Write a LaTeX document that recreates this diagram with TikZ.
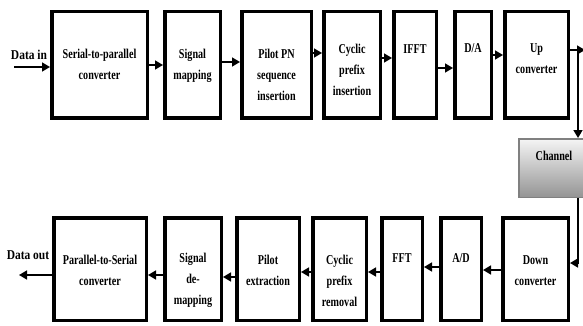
\documentclass[tikz,border=0pt]{standalone}
\usepackage{fontspec}
\setmainfont{Liberation Serif}[FakeStretch=0.75]
\newfontfamily\iofont{Liberation Serif}[FakeStretch=0.85]
\usetikzlibrary{positioning,arrows.meta}

\begin{document}
\begin{tikzpicture}[x=1pt,y=-1pt,
    blk/.style={draw=black,line width=3.5pt,inner sep=0pt,minimum width=#1},
    toprow/.style={minimum height=106.5pt},
    botrow/.style={minimum height=102.5pt},
    txt/.style={font=\fontsize{13.5}{21}\selectfont\bfseries,align=center,inner sep=0pt},
    iotxt/.style={font=\fontsize{13.5}{15}\selectfont\iofont\bfseries,inner sep=0pt},
    arr/.style={line width=1.6pt,-{Triangle[length=8pt,width=9pt]}}]
      \useasboundingbox (0,0) rectangle (583,326);
      \node [blk=95.5,toprow] (sp) at (99.5,65) {};
      \node [blk=55.5,toprow] (map) at (192.5,65) {};
      \node [blk=69.5,toprow] (pilot) at (276.5,65) {};
      \node [blk=56.5,toprow] (cp) at (352,65) {};
      \node [blk=42.5,toprow] (ifft) at (415,65) {};
      \node [blk=36.5,toprow] (da) at (473,65) {};
      \node [blk=63.5,toprow] (up) at (536.5,65) {};
      \node [txt,below=39pt of sp.north] (sp-t) {Serial-to-parallel\\converter};
      \node [txt,below=39pt of map.north] (map-t) {Signal\\mapping};
      \node [txt,below=39pt of pilot.north] (pilot-t) {Pilot PN\\sequence\\insertion};
      \node [txt,below=34pt of cp.north] (cp-t) {Cyclic\\prefix\\insertion};
      \node [txt,below=34pt of ifft.north] (ifft-t) {IFFT};
      \node [txt,below=33pt of da.north] (da-t) {D/A};
      \node [txt,below=33pt of up.north] (up-t) {Up\\converter};
      \node [draw=black!50,line width=1.5pt,top color=black!4,bottom color=black!42,
             minimum width=70.5pt,minimum height=58.5pt] (chan) at (554,168) {};
      \node [txt,below=13pt of chan.north] (chan-t) {Channel};
      \node [blk=65.5,botrow] (down) at (535.5,269) {};
      \node [blk=40.5,botrow] (ad) at (461,269) {};
      \node [blk=40.5,botrow] (fft) at (402,269) {};
      \node [blk=53.5,botrow] (cpr) at (339.5,269) {};
      \node [blk=62.5,botrow] (pe) at (268,269) {};
      \node [blk=56.5,botrow] (demap) at (193,269) {};
      \node [blk=92.5,botrow] (ps) at (100,269) {};
      \node [txt,below=39pt of down.north] (down-t) {Down\\converter};
      \node [txt,below=37pt of ad.north] (ad-t) {A/D};
      \node [txt,below=37pt of fft.north] (fft-t) {FFT};
      \node [txt,below=39pt of cpr.north] (cpr-t) {Cyclic\\prefix\\removal};
      \node [txt,below=39pt of pe.north] (pe-t) {Pilot\\extraction};
      \node [txt,below=37pt of demap.north] (demap-t) {Signal\\de-\\mapping};
      \node [txt,below=39pt of ps.north] (ps-t) {Parallel-to-Serial\\converter};
      \node [iotxt] (in-t) at (29,55) {Data in};
      \node [iotxt] (out-t) at (28,255) {Data out};
      \coordinate (in) at (14,67);
      \coordinate (out) at (19,275);
      \coordinate (upout) at (585,50);
      \coordinate (turn) at (578,50);
      \draw [arr] (in) -- ([yshift=-2pt]sp.west);
      \draw [arr] (sp.east) -- (map.west);
      \draw [arr] ([yshift=3pt]map.east) -- ([yshift=3pt]pilot.west);
      \draw [arr] ([yshift=12pt]pilot.east) -- ([yshift=12pt]cp.west);
      \draw [arr] ([yshift=7pt]cp.east) -- ([yshift=7pt]ifft.west);
      \draw [arr] ([yshift=-3pt]ifft.east) -- ([yshift=-3pt]da.west);
      \draw [arr] ([yshift=10pt]da.east) -- ([yshift=10pt]up.west);
      \draw [arr] ([yshift=15pt]up.east) -- (upout);
      \draw [arr] (turn) -- (turn |- chan.north);
      \draw [arr] (turn |- chan.south) |- ([yshift=6pt]down.east);
      \draw [arr] ([yshift=-1pt]down.west) -- ([yshift=-1pt]ad.east);
      \draw [arr] ([yshift=2pt]ad.west) -- ([yshift=2pt]fft.east);
      \draw [arr] ([yshift=-3pt]fft.west) -- ([yshift=-3pt]cpr.east);
      \draw [arr] ([yshift=-3pt]cpr.west) -- ([yshift=-3pt]pe.east);
      \draw [arr] ([yshift=-8pt]pe.west) -- ([yshift=-8pt]demap.east);
      \draw [arr] ([yshift=-6pt]demap.west) -- ([yshift=-6pt]ps.east);
      \draw [arr] ([yshift=-6pt]ps.west) -- (out);
    \end{tikzpicture}
\end{document}
